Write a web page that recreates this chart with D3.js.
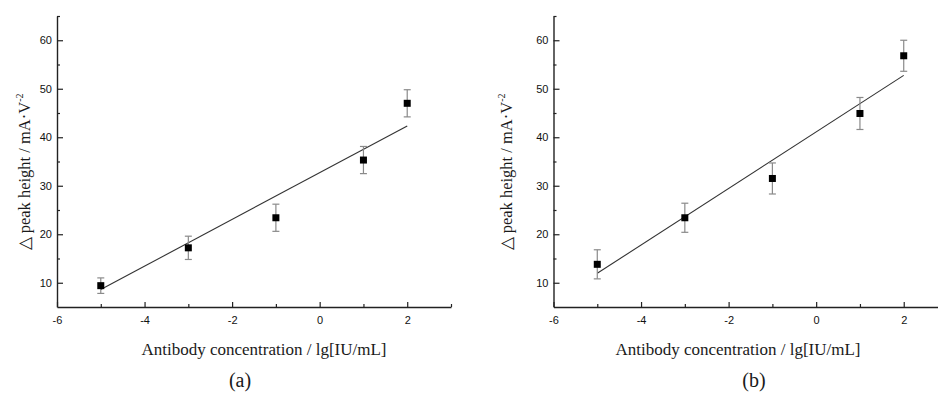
<!DOCTYPE html>
<html>
<head>
<meta charset="utf-8">
<script src="https://cdn.jsdelivr.net/npm/d3@7"></script>
<style>
  body { margin: 0; background: #fff; }
  .tick text { font-family: "Liberation Sans", Arial, sans-serif; font-size: 11px; fill: #111; }
  .lbl { font-family: "Liberation Serif", "Times New Roman", serif; fill: #1a1a1a; }
</style>
</head>
<body>
<svg width="938" height="394"></svg>
<script>
// values
const conc = [-5, -3, -1, 1, 2];
const peakA = [9.4, 17.2, 23.4, 35.3, 47.0];
const errA = [1.6, 2.4, 2.8, 2.8, 2.8];
const peakB = [13.8, 23.4, 31.5, 44.9, 56.8];
const errB = [3.0, 3.0, 3.2, 3.3, 3.2];
const fitA = { intercept: 32.7, slope: 4.82 };
const fitB = { intercept: 41.1, slope: 5.83 };
const xTicks = [-6, -4, -2, 0, 2];
const xMinor = [-5, -3, -1, 1, 3];
const yTicks = [10, 20, 30, 40, 50, 60];
const yMinor = [15, 25, 35, 45, 55, 65];

const svg = d3.select("svg");

const panels = [
  { left: 57, peak: peakA, err: errA, fit: fitA, tag: "(a)", xlab: 264, ylab: 30, tagX: 240 },
  { left: 553.5, peak: peakB, err: errB, fit: fitB, tag: "(b)", xlab: 738, ylab: 512, tagX: 754 }
];

// plain hyphen minus like the original
const fmt = d => String(d);

panels.forEach(p => {
  const x = d3.scaleLinear().domain([-6, 3]).range([p.left, p.left + 394]);
  const y = d3.scaleLinear().domain([5, 65]).range([307, 16]);
  const g = svg.append("g");

  // minor ticks first
  g.append("g").attr("transform", "translate(0,307)")
    .call(d3.axisBottom(x).tickValues(xMinor).tickSize(-3).tickFormat(""))
    .call(a => a.select(".domain").remove());
  g.append("g").attr("transform", `translate(${p.left},0)`)
    .call(d3.axisLeft(y).tickValues(yMinor).tickSize(-3).tickFormat(""))
    .call(a => a.select(".domain").remove());

  g.append("g").attr("transform", "translate(0,307)")
    .call(d3.axisBottom(x).tickValues(xTicks).tickFormat(fmt).tickSizeInner(-5).tickSizeOuter(0).tickPadding(9));
  g.append("g").attr("transform", `translate(${p.left},0)`)
    .call(d3.axisLeft(y).tickValues(yTicks).tickFormat(fmt).tickSizeInner(-6).tickSizeOuter(0).tickPadding(5));
  g.selectAll(".domain").attr("stroke", "#222").attr("stroke-width", 1.4);
  g.selectAll(".tick line").attr("stroke", "#222").attr("stroke-width", 1.2);

  // fit line
  const ex = d3.extent(conc);
  g.append("line")
    .attr("x1", x(ex[0])).attr("y1", y(p.fit.intercept + p.fit.slope * ex[0]))
    .attr("x2", x(ex[1])).attr("y2", y(p.fit.intercept + p.fit.slope * ex[1]))
    .attr("stroke", "#333").attr("stroke-width", 1.1);

  // error bars
  const eb = g.append("g").attr("stroke", "#8a8a8a").attr("stroke-width", 1.2);
  conc.forEach((c, i) => {
    const cx = x(c), top = y(p.peak[i] + p.err[i]), bot = y(p.peak[i] - p.err[i]);
    eb.append("line").attr("x1", cx).attr("x2", cx).attr("y1", top).attr("y2", bot);
    eb.append("line").attr("x1", cx - 3.5).attr("x2", cx + 3.5).attr("y1", top).attr("y2", top);
    eb.append("line").attr("x1", cx - 3.5).attr("x2", cx + 3.5).attr("y1", bot).attr("y2", bot);
  });

  // markers
  g.selectAll("rect.pt").data(conc).join("rect").attr("class", "pt")
    .attr("x", d => x(d) - 3.5)
    .attr("y", (d, i) => y(p.peak[i]) - 3.5)
    .attr("width", 7).attr("height", 7).attr("fill", "#000");

  // axis titles
  g.append("text").attr("class", "lbl").attr("x", p.xlab).attr("y", 355)
    .attr("text-anchor", "middle").attr("font-size", 17)
    .text("Antibody concentration / lg[IU/mL]");

  const yl = g.append("text").attr("class", "lbl")
    .attr("transform", `translate(${p.ylab},172) rotate(-90)`)
    .attr("text-anchor", "middle").attr("font-size", 16.5);
  yl.append("tspan").text("△ peak height / mA·V");
  yl.append("tspan").attr("font-size", 10).attr("dy", -7).text("-2");

  g.append("text").attr("class", "lbl").attr("x", p.tagX).attr("y", 387)
    .attr("text-anchor", "middle").attr("font-size", 20).text(p.tag);
});
</script>
</body>
</html>
